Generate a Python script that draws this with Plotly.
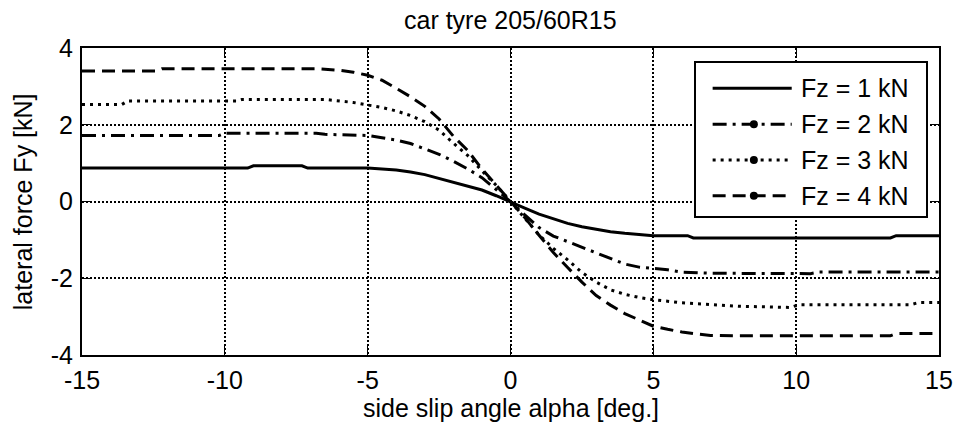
import plotly.graph_objects as go

# Side slip angle alpha [deg] and lateral force Fy [kN] for each wheel load
alpha_1 = [-15, -9.2, -9.0, -7.3, -7.1, -5, -4, -3.5, -3, -2.5, -2, -1.5, -1, -0.5, 0,
           0.5, 1, 1.5, 2, 2.5, 3, 3.5, 4, 4.8, 5, 6.2, 6.4, 13.3, 13.5, 15]
fy_1 = [0.87, 0.87, 0.93, 0.93, 0.87, 0.87, 0.82, 0.77, 0.70, 0.60, 0.51, 0.41, 0.30, 0.15, 0.0,
        -0.17, -0.33, -0.46, -0.57, -0.66, -0.73, -0.79, -0.83, -0.87, -0.89, -0.89, -0.95, -0.95, -0.89, -0.89]

alpha_2 = [-15, -10.2, -10, -6.8, -6.5, -5, -4.5, -4, -3.5, -3, -2.5, -2, -1.5, -1, -0.5, 0,
           0.5, 1, 1.5, 2, 2.5, 3, 3.5, 4, 4.5, 5, 5.5, 6, 7, 10.5, 10.8, 15]
fy_2 = [1.72, 1.72, 1.78, 1.78, 1.75, 1.72, 1.66, 1.60, 1.51, 1.38, 1.23, 1.05, 0.85, 0.62, 0.32, 0.0,
        -0.35, -0.68, -0.90, -1.05, -1.20, -1.35, -1.50, -1.63, -1.71, -1.75, -1.78, -1.84, -1.87, -1.88, -1.84, -1.84]

alpha_3 = [-15, -13.6, -13.4, -9.6, -9.4, -6.5, -5.5, -5, -4.5, -4, -3.5, -3, -2.5, -2, -1.5, -1, -0.5, 0,
           0.5, 1, 1.5, 2, 2.5, 3, 3.5, 4, 4.5, 5, 6, 7, 8, 9.8, 10.1, 14, 14.3, 15]
fy_3 = [2.53, 2.53, 2.62, 2.62, 2.66, 2.66, 2.58, 2.52, 2.45, 2.36, 2.24, 2.08, 1.86, 1.52, 1.20, 0.80, 0.42, 0.0,
        -0.45, -0.87, -1.22, -1.52, -1.85, -2.10, -2.30, -2.42, -2.50, -2.56, -2.64, -2.69, -2.73, -2.76, -2.69, -2.69, -2.63, -2.63]

alpha_4 = [-15, -12.4, -12.2, -6.8, -6, -5.5, -5, -4.5, -4, -3.5, -3, -2.5, -2, -1.5, -1, -0.5, 0,
           0.5, 1, 1.5, 2, 2.5, 3, 3.5, 4, 4.5, 5, 5.5, 6, 6.5, 7, 8, 13.3, 13.5, 15]
fy_4 = [3.40, 3.40, 3.46, 3.46, 3.42, 3.37, 3.29, 3.16, 2.95, 2.73, 2.48, 2.15, 1.70, 1.33, 0.85, 0.42, 0.0,
        -0.42, -0.88, -1.33, -1.72, -2.10, -2.45, -2.70, -2.92, -3.09, -3.25, -3.33, -3.40, -3.45, -3.49, -3.50, -3.50, -3.44, -3.44]

legend_labels = ["Fz = 1 kN", "Fz = 2 kN", "Fz = 3 kN", "Fz = 4 kN"]
x_ticks = [-15, -10, -5, 0, 5, 10, 15]
x_tick_text = ["-15", "-10", "-5", "0", "5", "10", "15"]
y_ticks = [-4, -2, 0, 2, 4]
y_tick_text = ["-4", "-2", "0", "2", "4"]

title_text = "car tyre 205/60R15"
x_title = "side slip angle alpha [deg.]"
y_title = "lateral force Fy [kN]"

FONT = "Arial, Liberation Sans, Helvetica, sans-serif"
FS = 25
dashes = ["solid", "14px,6px,3px,6px", "3px,5px", "13px,7px"]
series = [(alpha_1, fy_1), (alpha_2, fy_2), (alpha_3, fy_3), (alpha_4, fy_4)]

fig = go.Figure()
for (a, f), d, name in zip(series, dashes, legend_labels):
    fig.add_trace(go.Scatter(x=a, y=f, mode="lines", name=name, showlegend=False,
                             line=dict(color="black", width=3, dash=d)))

# Legend drawn in its own small subplot (box in pixel-like units: 233 x 153)
box_w, box_h = 233, 153
row_y = [25.3, 61.3, 97.0, 132.7]
for i, (d, name) in enumerate(zip(dashes, legend_labels)):
    fig.add_trace(go.Scatter(x=[17, 97], y=[row_y[i], row_y[i]], mode="lines",
                             line=dict(color="black", width=3, dash=d),
                             xaxis="x2", yaxis="y2", showlegend=False, hoverinfo="skip"))
    if i > 0:
        fig.add_trace(go.Scatter(x=[58.7], y=[row_y[i]], mode="markers",
                                 marker=dict(color="black", size=8),
                                 xaxis="x2", yaxis="y2", showlegend=False, hoverinfo="skip"))
    fig.add_annotation(x=104, y=row_y[i], xref="x2", yref="y2", text=name, showarrow=False,
                       xanchor="left", yanchor="middle", font=dict(family=FONT, size=FS, color="black"))

L, R, T, B = 82, 16, 48, 70
W, H = 965, 425
pw, ph = W - L - R, H - T - B

lx0, lx1 = (703 - L) / pw, (936 - L) / pw
ly0, ly1 = (T + ph - 216) / ph, (T + ph - 63) / ph

axis_common = dict(showline=True, linewidth=2, linecolor="black", mirror="ticks",
                   ticks="inside", ticklen=9, tickwidth=1, tickcolor="black",
                   showgrid=True, gridcolor="black", gridwidth=1.5, griddash="2px,2px",
                   zeroline=False, tickfont=dict(family=FONT, size=FS, color="black"))

fig.update_layout(
    width=W, height=H,
    margin=dict(l=L, r=R, t=T, b=B),
    paper_bgcolor="white", plot_bgcolor="white",
    xaxis=dict(range=[-15, 15], tickvals=x_ticks, ticktext=x_tick_text, ticklabelstandoff=2, **axis_common),
    yaxis=dict(range=[-4, 4], tickvals=y_ticks, ticktext=y_tick_text, ticklabelstandoff=2, **axis_common),
    xaxis2=dict(domain=[lx0, lx1], range=[0, box_w], anchor="y2", showgrid=False, zeroline=False,
                showticklabels=False, ticks="", showline=True, mirror=True, linewidth=2, linecolor="black"),
    yaxis2=dict(domain=[ly0, ly1], range=[box_h, 0], anchor="x2", showgrid=False, zeroline=False,
                showticklabels=False, ticks="", showline=True, mirror=True, linewidth=2, linecolor="black"),
    showlegend=False,
)

fig.add_annotation(text=title_text, xref="paper", yref="paper", x=0.5, y=(T + ph - 20) / ph,
                   showarrow=False, xanchor="center", yanchor="middle",
                   font=dict(family=FONT, size=FS, color="black"))
fig.add_annotation(text=x_title, xref="paper", yref="paper", x=0.5, y=(T + ph - 408) / ph,
                   showarrow=False, xanchor="center", yanchor="middle",
                   font=dict(family=FONT, size=FS, color="black"))
fig.add_annotation(text=y_title, xref="paper", yref="paper", x=(22 - L) / pw, y=0.5, textangle=-90,
                   showarrow=False, xanchor="center", yanchor="middle",
                   font=dict(family=FONT, size=FS, color="black"))

fig.write_html("out.html")
